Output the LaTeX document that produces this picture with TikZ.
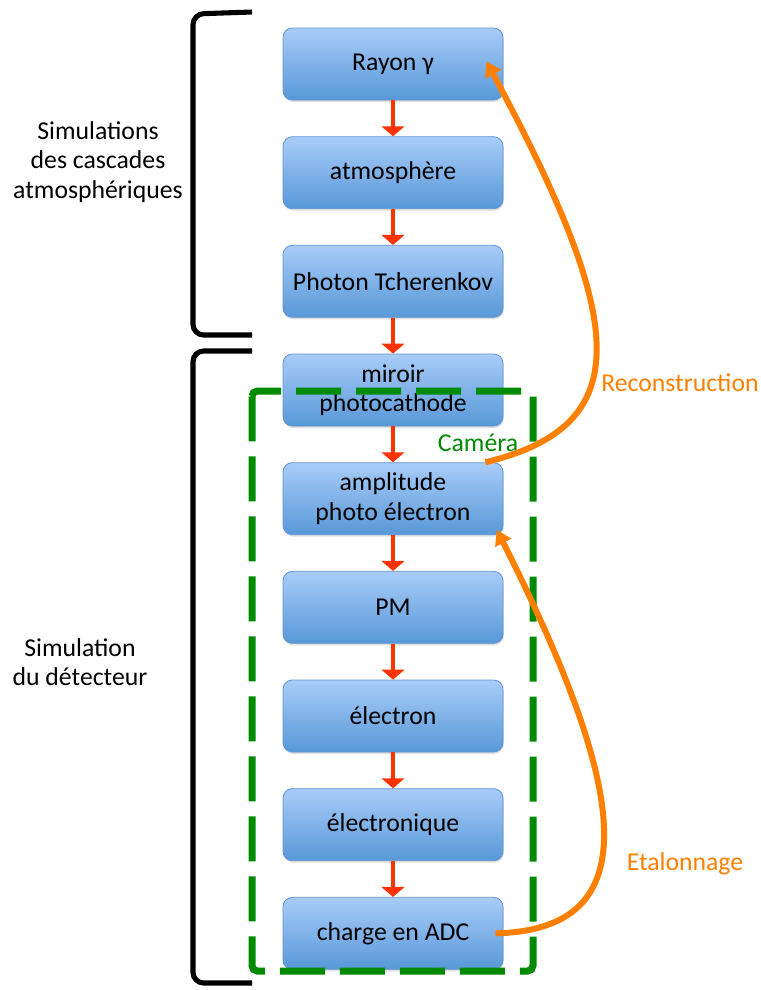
\documentclass[tikz,border=0pt]{standalone}
\usepackage{fontspec}
\setmainfont{Carlito}
\usetikzlibrary{arrows.meta,positioning,shadows}

\definecolor{boxtop}{RGB}{168,204,248}
\definecolor{boxbot}{RGB}{88,152,216}
\definecolor{boxline}{RGB}{98,148,208}
\definecolor{flecherouge}{RGB}{255,51,0}
\definecolor{orangefonce}{RGB}{255,128,0}
\definecolor{vertcam}{RGB}{0,138,0}

\begin{document}
\begin{tikzpicture}[x=0.75pt,y=-0.75pt,node distance=26.9pt,font=\fontsize{19.3}{22}\selectfont]
          \tikzstyle{etape}=[draw=boxline,line width=0.6pt,rounded corners=7pt,top color=boxtop,bottom color=boxbot,
                             minimum width=165pt,minimum height=54pt,align=center,inner sep=2pt,
                             drop shadow={opacity=0.25,shadow xshift=0.6pt,shadow yshift=-1.5pt}]
          \tikzstyle{fleche}=[color=flecherouge,line width=2.3pt,-{Triangle[width=17pt,length=7.5pt]}]
          \tikzstyle{retour}=[draw=orangefonce,line width=4.5pt,-{Triangle[width=13pt,length=11pt]}]
          \tikzstyle{accolade}=[draw=black,line width=3.8pt,rounded corners=8pt]
          \tikzstyle{camera}=[draw=vertcam,line width=5.25pt,dash pattern=on 33.75pt off 11.25pt,rounded corners=4pt]
          \useasboundingbox (0,0) rectangle (761,990);

          \node[etape] (A) at (393,64) {Rayon γ};
          \node[etape] (B) [below=of A] {atmosphère};
          \node[etape] (C) [below=of B] {Photon Tcherenkov};
          \node[etape] (D) [below=of C] {miroir\\photocathode};
          \node[etape] (E) [below=of D] {amplitude\\photo électron};
          \node[etape] (F) [below=of E] {PM};
          \node[etape] (G) [below=of F] {électron};
          \node[etape] (H) [below=of G] {électronique};
          \node[etape] (I) [below=of H] {charge en ADC};

          \path[fleche] (A) edge (B)
                        (B) edge (C)
                        (C) edge (D)
                        (D) edge (E)
                        (E) edge (F)
                        (F) edge (G)
                        (G) edge (H)
                        (H) edge (I);

          % cadre camera
          \draw[camera] (252,391) rectangle (533,971);
          \node[text=vertcam] (cam) at (478,443) {Caméra};

          % accolades et legendes
          \draw[accolade] (252,12) -- (193,14) -- (193,335) -- (252,335);
          \draw[accolade] (252,351) -- (193,351) -- (193,983) -- (252,983);
          \node[align=center] (sc) at (98,162) {Simulations\\des cascades\\atmosphériques};
          \node[align=center] (sd) at (80,662) {Simulation\\du détecteur};

          % boucles
          \draw[retour] ([xshift=-13.5pt]E.north east) .. controls (640,425) and (625,320) .. ([xshift=-12.75pt,yshift=2pt]A.east);
          \node[text=orangefonce] (rec) at (680,383) {Reconstruction};
          \draw[retour] ([xshift=-6pt]I.east) .. controls (650,930) and (628,790) .. ([xshift=-5pt,yshift=4pt]E.south east);
          \node[text=orangefonce] (eta) at (685,864) {Etalonnage};
        \end{tikzpicture}
\end{document}
